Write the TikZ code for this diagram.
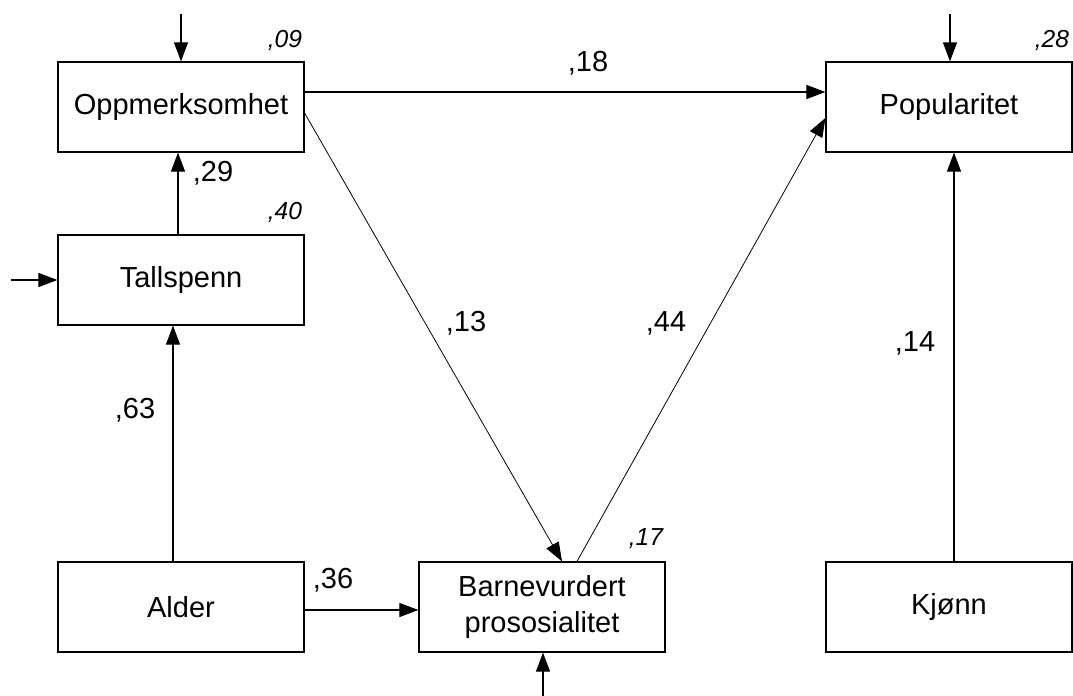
\documentclass[tikz,border=0pt]{standalone}
\usepackage{fontspec}
\setmainfont{Liberation Sans}
\usetikzlibrary{arrows.meta,calc}
\tikzset{
  var/.style={draw, line width=0.7pt, minimum width=4.92cm, minimum height=1.8cm, inner sep=0pt, align=center, font=\fontsize{16.5}{20}\selectfont},
  path/.style={-{Triangle[length=0.38cm,width=0.28cm]}, line width=0.6pt},
  coef/.style={font=\fontsize{16.5}{20}\selectfont, inner sep=0pt},
  rsq/.style={font=\itshape\fontsize{14}{17}\selectfont, inner sep=0pt}
}
\begin{document}
\begin{tikzpicture}[x=0.02cm, y=-0.02cm]
	\useasboundingbox (0,0) rectangle (1073,696);
	% variables
	\node[var] (opp) at (181,107) {Oppmerksomhet};
	\node[var] (tall) at (181,280) {Tallspenn};
	\node[var] (alder) at (181,607) {Alder};
	\node[var] (barn) at (542,607) {Barnevurdert\\prososialitet};
	\node[var] (pop) at (949,107) {Popularitet};
	\node[var] (kjonn) at (949,607) {Kjønn};
	% residual inputs
	\coordinate (eopp) at (181,14);
	\coordinate (etall) at (11,280);
	\coordinate (ebarn) at (543,696);
	\coordinate (epop) at (950,14);
	\draw[path] (eopp) -- (opp.north);
	\draw[path] (etall) -- (tall.west);
	\draw[path] (ebarn) -- (ebarn |- barn.south);
	\draw[path] (epop) -- (epop |- pop.north);
	% paths
	\draw[path] ($(tall.north)+(-3,0)$) -- ($(opp.south)+(-3,0)$);
	\draw[path] ($(alder.north)+(-8,0)$) -- ($(tall.south)+(-8,0)$);
	\draw[path] ($(alder.east)+(0,3)$) -- ($(barn.west)+(0,3)$);
	\draw[path] ($(opp.east)+(0,-15)$) -- ($(pop.west)+(0,-15)$);
	\draw[path, line width=0.45pt] ($(opp.east)+(0,6)$) -- ($(barn.north)+(20,0)$);
	\draw[path, line width=0.45pt] ($(barn.north)+(35,0)$) -- ($(pop.west)+(0,11)$);
	\draw[path] ($(kjonn.north)+(5,0)$) -- ($(pop.south)+(5,0)$);
	% coefficients
	\node[coef] (c18) at (588,63) {,18};
	\node[coef] (c29) at (213,173) {,29};
	\node[coef] (c63) at (135,410) {,63};
	\node[coef] (c36) at (333,580) {,36};
	\node[coef] (c13) at (466,323) {,13};
	\node[coef] (c44) at (666,323) {,44};
	\node[coef] (c14) at (915,343) {,14};
	% explained variance
	\node[rsq] (r09) at (285,40) {,09};
	\node[rsq] (r40) at (285,212) {,40};
	\node[rsq] (r17) at (646,539) {,17};
	\node[rsq] (r28) at (1052,40) {,28};
\end{tikzpicture}
\end{document}
